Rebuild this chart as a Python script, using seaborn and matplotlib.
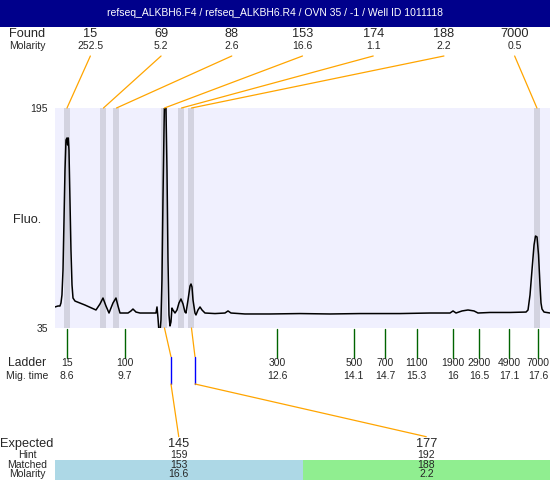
import numpy as np
import pandas as pd
import matplotlib
matplotlib.use('Agg')
import matplotlib.pyplot as plt
from matplotlib.patches import Rectangle
import seaborn as sns

# %%
# Datos leidos del electroferograma
titulo = 'refseq_ALKBH6.F4 / refseq_ALKBH6.R4 / OVN 35 / -1 / Well ID 1011118'

# Picos encontrados (tamaño, molaridad, tiempo de migracion)
found_sizes = ['15', '69', '88', '153', '174', '188', '7000']
found_molarity = ['252.5', '5.2', '2.6', '16.6', '1.1', '2.2', '0.5']
found_times = [8.6, 9.297, 9.546, 10.463, 10.788, 10.979, 17.58]

# Ladder
ladder_sizes = ['15', '100', '300', '500', '700', '1100', '1900', '2900', '4900', '7000']
ladder_mig = ['8.6', '9.7', '12.6', '14.1', '14.7', '15.3', '16', '16.5', '17.1', '17.6']
ladder_times = [8.6, 9.708, 12.62, 14.08, 14.68, 15.28, 15.97, 16.48, 17.05, 17.6]

# Esperados
expected_sizes = ['145', '177']
hint_sizes = ['159', '192']
hint_times = [10.587, 11.046]
matched_sizes = ['153', '188']
matched_times = [10.463, 10.979]
matched_molarity = ['16.6', '2.2']
matched_colors = ['#ADD8E6', '#90EE90']

# Traza de fluorescencia
trace_time = [8.371, 8.428, 8.466, 8.485, 8.504, 8.524, 8.543, 8.562, 8.581, 8.600,
              8.613, 8.625, 8.638, 8.657, 8.676, 8.696, 8.715, 8.753, 8.944, 9.154,
              9.231, 9.288, 9.345, 9.403, 9.479, 9.536, 9.575, 9.613, 9.766, 9.823,
              9.861, 9.919, 9.995, 10.186, 10.301, 10.320, 10.339, 10.358, 10.377, 10.396,
              10.415, 10.434, 10.454, 10.467, 10.482, 10.492, 10.511, 10.530, 10.549, 10.568,
              10.587, 10.606, 10.625, 10.664, 10.702, 10.740, 10.778, 10.817, 10.855, 10.874,
              10.913, 10.951, 10.970, 10.989, 11.008, 11.046, 11.065, 11.103, 11.142, 11.180,
              11.237, 11.428, 11.619, 11.677, 11.734, 12.001, 12.479, 13.053, 13.626, 14.199,
              14.964, 15.537, 15.919, 15.977, 16.034, 16.149, 16.263, 16.378, 16.454, 16.684,
              17.066, 17.372, 17.410, 17.448, 17.486, 17.525, 17.553, 17.582, 17.611, 17.639,
              17.658, 17.677, 17.716, 17.830]
trace_fluo = [50.3, 51.0, 51.0, 53.2, 59.0, 77.2, 113.5, 149.9, 171.7, 173.2,
              168.1, 173.2, 164.5, 128.1, 91.7, 66.3, 56.8, 54.6, 51.7, 48.1,
              52.5, 56.8, 51.0, 45.9, 53.2, 56.8, 51.0, 45.9, 45.9, 47.4,
              48.8, 46.6, 45.9, 45.9, 45.9, 50.3, 42.3, 32.1, 32.1, 40.8,
              69.9, 128.1, 179.0, 208.0, 208.0, 193.6, 149.9, 84.5, 44.5, 36.5,
              39.4, 49.5, 48.1, 45.9, 48.1, 53.2, 56.1, 52.5, 46.6, 45.9,
              55.4, 65.5, 67.0, 64.8, 55.4, 45.9, 44.5, 48.1, 50.3, 48.1,
              45.9, 45.5, 45.9, 47.4, 45.9, 45.2, 45.2, 45.5, 45.2, 45.5,
              45.5, 45.9, 45.9, 47.4, 45.9, 47.4, 48.1, 47.4, 45.9, 46.3,
              46.3, 46.6, 48.1, 59.0, 77.2, 95.4, 101.9, 101.2, 88.1, 66.3,
              53.2, 48.8, 46.6, 45.9]

df_trace = pd.DataFrame({'time': trace_time, 'fluo': trace_fluo})

# %%
sns.set_style('white')
plt.rcParams['font.family'] = ['Liberation Sans', 'DejaVu Sans']

big = 9.2
small = 7.5
orange = '#FFA500'

fig = plt.figure(figsize=(5.5, 4.8), dpi=100)
fig.patch.set_facecolor('white')

# Zona del electroferograma
ax = fig.add_axes([55 / 550, 152 / 480, 495 / 550, 220 / 480])
ax.set_xlim(8.371, 17.83)
ax.set_ylim(35, 195)
ax.set_facecolor('#F0F0FE')
for s in ax.spines.values():
    s.set_visible(False)

for t in found_times:
    ax.axvspan(t - 0.0575, t + 0.0575, color='#D3D3E0', lw=0, zorder=1)

sns.lineplot(data=df_trace, x='time', y='fluo', ax=ax, color='black', lw=1.1,
             estimator=None, sort=False, zorder=3)
ax.set_xlabel('')
ax.set_ylabel('')
ax.set_xticks([])
ax.set_yticks([35, 195])
ax.set_yticklabels(['35', '195'])
ax.tick_params(axis='y', length=0, pad=5, labelsize=small)

# Capa en pixeles para textos y conectores
ov = fig.add_axes([0, 0, 1, 1], zorder=5)
ov.set_xlim(0, 550)
ov.set_ylim(480, 0)
ov.axis('off')


def px(t):
    # tiempo de migracion -> pixel x de la figura
    d = ax.transData.transform((t, 35))
    return ov.transData.inverted().transform(d)[0]


# Barra de titulo
ov.add_patch(Rectangle((0, 0), 550, 27, color='#00008B', lw=0))
ov.text(275, 13.5, titulo, color='white', ha='center', va='center', fontsize=7.5)

ov.text(27, 220, 'Fluo.', ha='center', va='center', fontsize=big)

# Fila Found / Molarity
ov.text(27, 34.3, 'Found', ha='center', va='center', fontsize=big)
ov.text(27, 46, 'Molarity', ha='center', va='center', fontsize=small)
n = len(found_sizes)
for i in range(n):
    sx = 55 + (i + 0.5) * 495 / n
    ov.text(sx, 34.3, found_sizes[i], ha='center', va='center', fontsize=big)
    ov.text(sx, 46, found_molarity[i], ha='center', va='center', fontsize=small)
    ov.plot([sx, px(found_times[i])], [56, 108], color=orange, lw=0.9)

# Ladder
ov.text(27, 363.3, 'Ladder', ha='center', va='center', fontsize=8.7)
ov.text(27, 376, 'Mig. time', ha='center', va='center', fontsize=small)
for i in range(len(ladder_sizes)):
    lx = px(ladder_times[i])
    ov.plot([lx, lx], [329, 358], color='#006400', lw=1)
    ov.text(lx, 363.3, ladder_sizes[i], ha='center', va='center', fontsize=small)
    ov.text(lx, 376, ladder_mig[i], ha='center', va='center', fontsize=small)

# Esperados
ov.text(27, 444, 'Expected', ha='center', va='center', fontsize=big)
ov.text(27, 455, 'Hint', ha='center', va='center', fontsize=small)
ov.text(27, 465, 'Matched', ha='center', va='center', fontsize=small)
ov.text(27, 474.3, 'Molarity', ha='center', va='center', fontsize=small)
m = len(expected_sizes)
w = 495 / m
for i in range(m):
    ex = 55 + (i + 0.5) * w
    ov.add_patch(Rectangle((55 + i * w, 460), w, 20, color=matched_colors[i], lw=0))
    ov.text(ex, 444, expected_sizes[i], ha='center', va='center', fontsize=big)
    ov.text(ex, 455, hint_sizes[i], ha='center', va='center', fontsize=small)
    ov.text(ex, 465, matched_sizes[i], ha='center', va='center', fontsize=small)
    ov.text(ex, 474.3, matched_molarity[i], ha='center', va='center', fontsize=small)
    mx = px(matched_times[i])
    hx = px(hint_times[i])
    ov.plot([mx, hx], [328, 356.7], color=orange, lw=0.9)
    ov.plot([hx, hx], [356.7, 384], color='#0000FF', lw=1)
    ov.plot([hx, ex], [384, 436.7], color=orange, lw=0.9)

fig.savefig('out.png', dpi=100)
